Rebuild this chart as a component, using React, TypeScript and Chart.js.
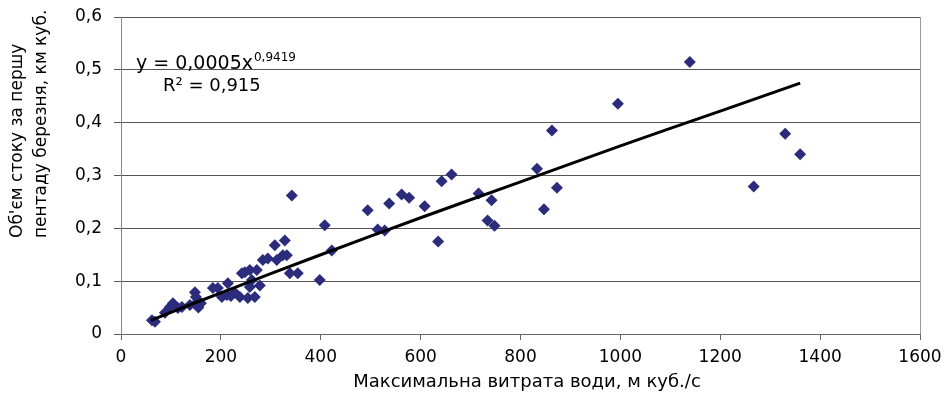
import React, { useEffect, useRef } from "react";
import { Chart, registerables } from "chart.js";

Chart.register(...registerables);

const flowX = [
  62, 68, 88, 98, 104, 114, 122, 138, 148, 150, 152, 155, 160, 184, 194, 202, 212, 214, 220, 228,
  242, 248, 238, 254, 268, 258, 272, 258, 262, 278, 284, 294, 308, 312, 324, 332, 328, 338, 354, 342,
  398, 408, 422, 494, 514, 528, 537, 562, 577, 608, 635, 642, 662, 716, 734, 742, 748, 833, 847, 863,
  873, 995, 1139, 1267, 1330, 1360,
];
const volumeY = [
  0.026, 0.023, 0.04, 0.051, 0.058, 0.049, 0.051, 0.055, 0.079, 0.07, 0.06, 0.05, 0.058, 0.087, 0.087, 0.07, 0.074, 0.096, 0.072, 0.078,
  0.115, 0.117, 0.07, 0.068, 0.07, 0.121, 0.121, 0.089, 0.102, 0.092, 0.14, 0.143, 0.168, 0.14, 0.149, 0.149, 0.177, 0.115, 0.115, 0.262,
  0.102, 0.206, 0.158, 0.234, 0.198, 0.196, 0.247, 0.264, 0.258, 0.242, 0.175, 0.289, 0.302, 0.266, 0.215, 0.253, 0.205, 0.313, 0.236, 0.385,
  0.277, 0.436, 0.515, 0.279, 0.379, 0.34,
];
const trendX = [60, 100, 200, 400, 600, 800, 1000, 1200, 1360];
const trendY = [0.026, 0.041, 0.078, 0.15, 0.22, 0.288, 0.356, 0.422, 0.475];

const xTitle = "Максимальна витрата води, м куб./с";
const yTitle = ["Об'єм стоку за першу", "пентаду березня, км куб."];
const eqMain = "y = 0,0005x";
const eqPow = "0,9419";
const eqR2 = "R² = 0,915";

const FONT = "'DejaVu Sans', sans-serif";

const extras = {
  id: "extras",
  afterDraw(chart: any) {
    const { ctx, chartArea } = chart;
    ctx.save();
    ctx.strokeStyle = "#999";
    ctx.lineWidth = 1;
    ctx.beginPath();
    ctx.moveTo(Math.round(chartArea.right) + 0.5, chartArea.top);
    ctx.lineTo(Math.round(chartArea.right) + 0.5, chartArea.bottom);
    ctx.stroke();

    ctx.fillStyle = "#000";
    ctx.textBaseline = "alphabetic";
    ctx.textAlign = "left";
    ctx.font = `19px ${FONT}`;
    ctx.fillText(eqMain, 136, 69);
    const w = ctx.measureText(eqMain).width;
    ctx.font = `12px ${FONT}`;
    ctx.fillText(eqPow, 136 + w + 1, 61);
    ctx.font = `18px ${FONT}`;
    ctx.fillText(eqR2, 163, 91);

    // x title
    ctx.font = `18px ${FONT}`;
    ctx.textAlign = "center";
    ctx.textBaseline = "middle";
    ctx.fillText(xTitle, 527, 382);

    // y title
    ctx.font = `17px ${FONT}`;
    ctx.textAlign = "left";
    ctx.textBaseline = "middle";
    const xs = [18, 42];
    yTitle.forEach((t, i) => {
      ctx.save();
      ctx.translate(xs[i], 238);
      ctx.rotate(-Math.PI / 2);
      ctx.fillText(t, 0, 0);
      ctx.restore();
    });
    ctx.restore();
  },
};

export default function App() {
  const ref = useRef<HTMLCanvasElement>(null);
  useEffect(() => {
    if (!ref.current) return;
    const chart = new Chart(ref.current, {
      type: "scatter",
      data: {
        datasets: [
          {
            label: "data",
            data: flowX.map((x, i) => ({ x, y: volumeY[i] })),
            pointStyle: "rectRot",
            pointRadius: 6,
            backgroundColor: "#2B2C7C",
            borderColor: "#2B2C7C",
            borderWidth: 0,
            order: 2,
          },
          {
            label: "trend",
            type: "line",
            data: trendX.map((x, i) => ({ x, y: trendY[i] })),
            borderColor: "#000",
            borderWidth: 3,
            pointRadius: 0,
            tension: 0.4,
            fill: false,
            order: 1,
          } as any,
        ],
      },
      options: {
        animation: false,
        responsive: false,
        maintainAspectRatio: false,
        layout: { padding: { left: 0, right: 25, top: 17, bottom: 0 } },
        plugins: { legend: { display: false }, tooltip: { enabled: false } },
        scales: {
          x: {
            type: "linear",
            min: 0,
            max: 1600,
            afterFit: (s: any) => {
              s.height = 62;
              s.paddingLeft = 0;
              s.paddingRight = 0;
            },
            ticks: {
              stepSize: 200,
              color: "#000",
              font: { family: FONT, size: 17 },
              padding: 7,
              maxRotation: 0,
              callback: (v: any) => String(v),
            },
            grid: { drawOnChartArea: false, drawTicks: true, tickLength: 6, color: "#666" },
            border: { color: "#666" },
          },
          y: {
            min: 0,
            max: 0.6,
            afterFit: (s: any) => {
              s.width = 121;
              s.paddingTop = 0;
              s.paddingBottom = 0;
            },
            ticks: {
              stepSize: 0.1,
              color: "#000",
              font: { family: FONT, size: 17 },
              padding: 12,
              callback: (v: any) => (Math.round(Number(v) * 10) / 10).toString().replace(".", ","),
            },
            grid: { color: "#555", tickLength: 7, lineWidth: 1 },
            border: { color: "#888" },
          },
        },
      },
      plugins: [extras],
    });
    return () => chart.destroy();
  }, []);
  return (
    <div style={{ position: "fixed", left: 0, top: 0, width: 945, height: 396, background: "#fff" }}>
      <canvas ref={ref} width={945} height={396} style={{ width: 945, height: 396 }} />
    </div>
  );
}
